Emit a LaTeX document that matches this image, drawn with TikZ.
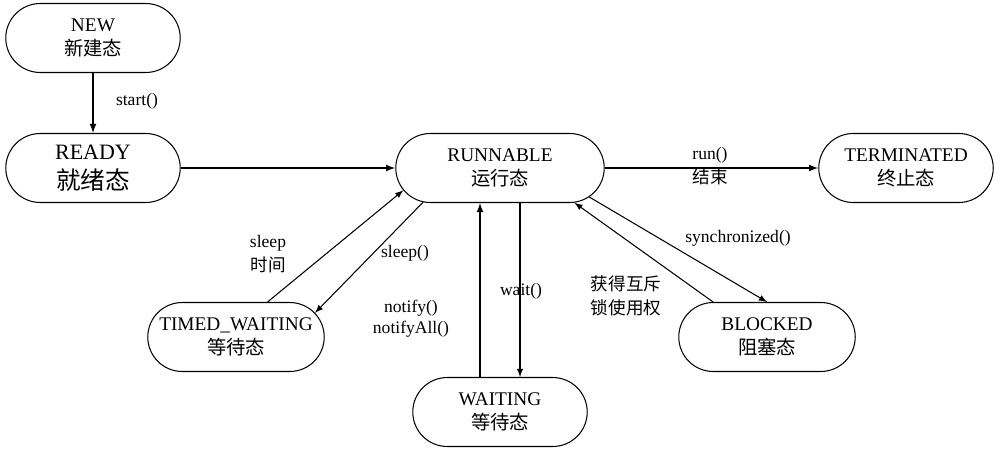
\documentclass[tikz,border=0pt]{standalone}
\usepackage{fontspec}
\setmainfont{Liberation Serif}
\newfontfamily\cjk{Noto Sans CJK SC}
\usetikzlibrary{arrows,shapes.misc}
\tikzset{
	statebox/.style={draw,line width=0.6pt,rounded rectangle,minimum width=3.56cm,minimum height=1.38cm,
		align=center,inner sep=1pt,font=\fontsize{11}{13.5}\selectfont},
	lbl/.style={align=center,font=\fontsize{10}{14}\selectfont},
	trans/.style={-latex,line width=0.8pt},
	thintrans/.style={-latex,line width=0.6pt},
}

\begin{document}
\begin{tikzpicture}[x=0.02cm,y=-0.02cm]
		\useasboundingbox (0,0) rectangle (1000,456);
		
		% states
		\node[statebox] (new) at (93,38) {NEW\\{\cjk 新建态}};
		\node[statebox,font=\fontsize{12.5}{17}\selectfont] (ready) at (93,168) {READY\\{\cjk\fontsize{14}{17}\selectfont 就绪态}};
		\node[statebox,minimum width=4.24cm] (run) at (500,168) {RUNNABLE\\{\cjk 运行态}};
		\node[statebox] (term) at (906,168) {TERMINATED\\{\cjk 终止态}};
		\node[statebox,minimum width=3.6cm] (tw) at (236,337) {TIMED\_WAITING\\{\cjk 等待态}};
		\node[statebox] (wait) at (500,412) {WAITING\\{\cjk 等待态}};
		\node[statebox,minimum width=3.6cm] (blk) at (767,337) {BLOCKED\\{\cjk 阻塞态}};
		
		% transitions
		\draw[trans] (new.south) -- (ready.north);
		\draw[trans] (ready.east) -- (run.west);
		\draw[trans] (run.east) -- (term.west);
		\draw[thintrans] (tw.48) -- (run.193);
		\draw[thintrans] (run.204) -- (tw.17);
		\draw[trans] ([xshift=-0.4cm]wait.north) -- ([xshift=-0.4cm]wait.north |- run.south);
		\draw[thintrans] ([xshift=0.4cm]run.south) -- ([xshift=0.4cm]run.south |- wait.north);
		\draw[thintrans] (run.342) -- (blk.north);
		\draw[thintrans] (blk.147) -- (run.335);
		
		% labels
		\node[lbl] (lstart) at (137,101) {start()};
		\node[lbl] (lrun) at (710,166) {run()\\{\cjk 结束}};
		\node[lbl] (lsleept) at (268,254) {sleep\\{\cjk 时间}};
		\node[lbl] (lsleep) at (405,253) {sleep()};
		\node[lbl,font=\fontsize{10}{12}\selectfont] (lnotify) at (411,319) {notify()\\notifyAll()};
		\node[lbl] (lwait) at (521,291) {wait()};
		\node[lbl] (lsync) at (738,238) {synchronized()};
		\node[lbl] (llock) at (626,296) {{\cjk 获得互斥}\\{\cjk 锁使用权}};
	\end{tikzpicture}
\end{document}
